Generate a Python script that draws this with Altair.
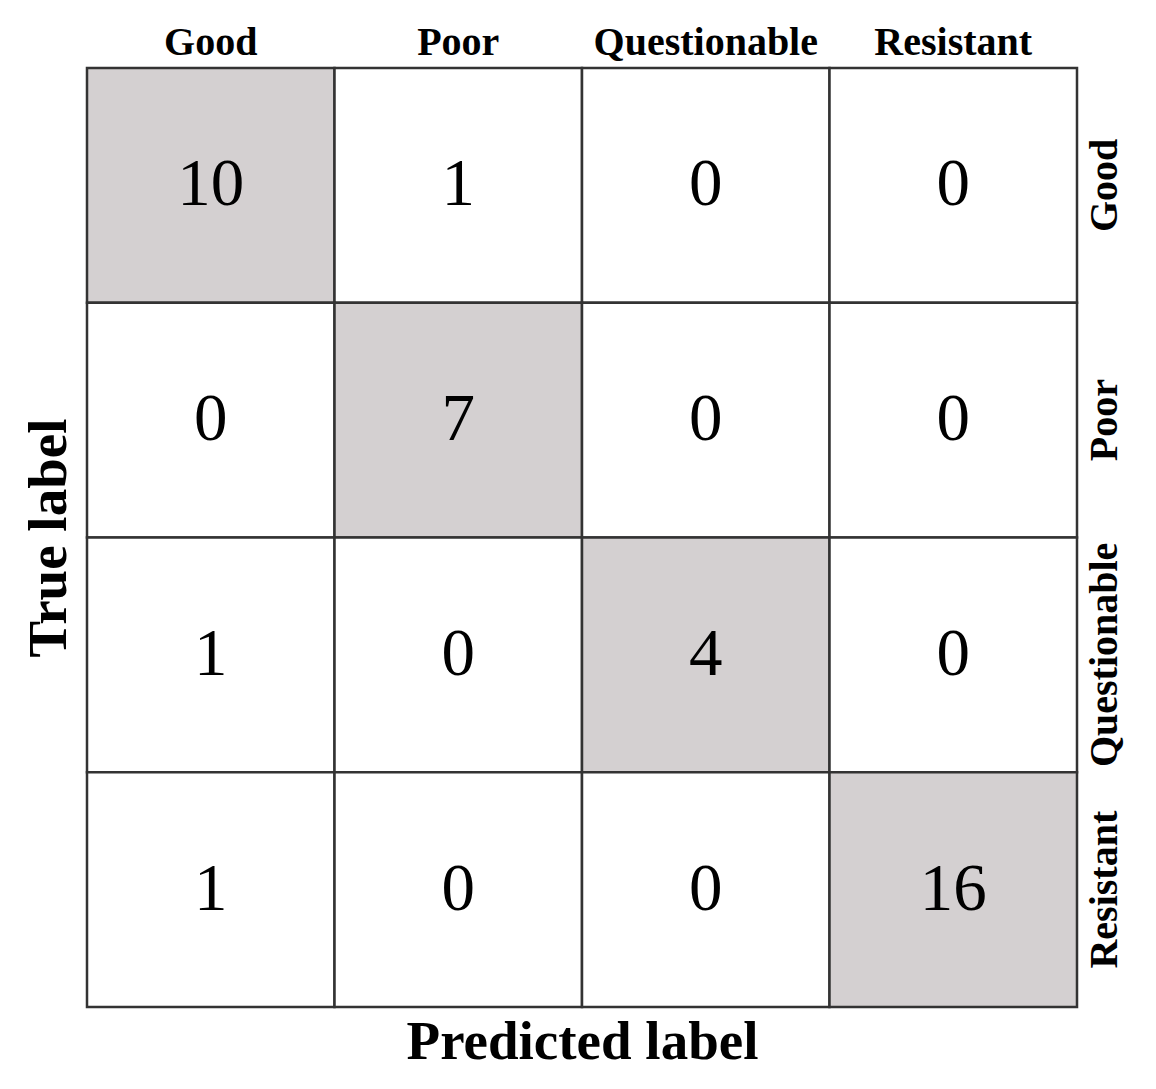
import altair as alt
import pandas as pd

labels = ["Good", "Poor", "Questionable", "Resistant"]
counts = [
    [10, 1, 0, 0],
    [0, 7, 0, 0],
    [1, 0, 4, 0],
    [1, 0, 0, 16],
]

rows = []
for i, t in enumerate(labels):
    for j, p in enumerate(labels):
        rows.append({"true": t, "pred": p, "count": counts[i][j],
                     "diag": "yes" if i == j else "no"})
df = pd.DataFrame(rows)

FONT = "Liberation Serif"
base = alt.Chart(df)

rect = base.mark_rect(stroke="#333333", strokeWidth=2.5).encode(
    x=alt.X("pred:N", sort=labels,
            axis=alt.Axis(orient="top", title=None, ticks=False, domain=False,
                          labelAngle=0, labelPadding=6, labelFont=FONT,
                          labelFontSize=40, labelFontWeight="bold",
                          labelColor="black", labelLimit=0)),
    y=alt.Y("true:N", sort=labels,
            axis=alt.Axis(orient="right", title=None, ticks=False, domain=False,
                          labelAngle=-90, labelAlign="center", labelBaseline="top",
                          labelPadding=7, labelFont=FONT, labelFontSize=40,
                          labelFontWeight="bold", labelColor="black",
                          labelLimit=0)),
    fill=alt.Fill("diag:N", scale=alt.Scale(domain=["yes", "no"],
                                            range=["#d4d0d1", "#ffffff"]),
                  legend=None),
)

text = base.mark_text(font=FONT, fontSize=67, color="black",
                      baseline="middle", align="center").encode(
    x=alt.X("pred:N", sort=labels,
            axis=alt.Axis(orient="bottom", title="Predicted label", labels=False,
                          ticks=False, domain=False, titlePadding=8,
                          titleFont=FONT, titleFontSize=55, titleFontWeight="bold",
                          titleColor="black")),
    y=alt.Y("true:N", sort=labels,
            axis=alt.Axis(orient="left", title="True label", labels=False,
                          ticks=False, domain=False, titlePadding=10,
                          titleFont=FONT, titleFontSize=55, titleFontWeight="bold",
                          titleColor="black")),
    text="count:Q",
)

chart = alt.layer(rect, text).resolve_axis(
    x="independent", y="independent"
).properties(
    width=990, height=939,
    autosize=alt.AutoSizeParams(type="none"),
    padding={"left": 79, "top": 60, "right": 50, "bottom": 75},
).configure_view(stroke=None).configure(background="white")

chart.save("out.html", embed_options={"renderer": "svg", "actions": False})
